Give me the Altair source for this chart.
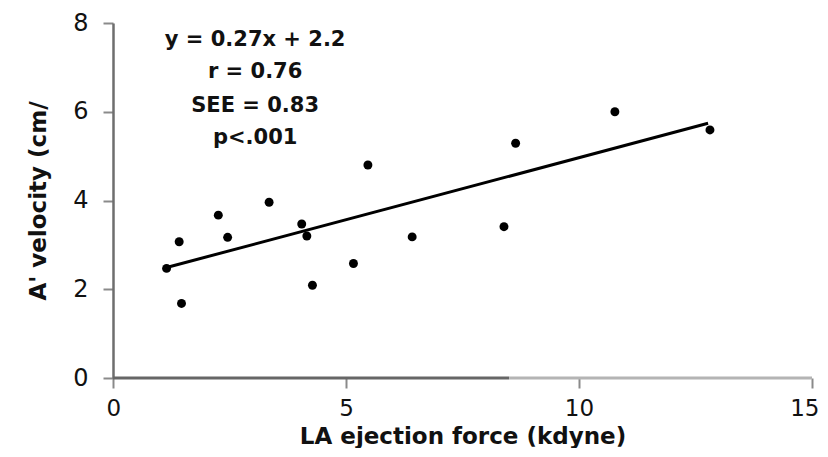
import altair as alt
import pandas as pd

# Scatter data
force = [1.15, 1.42, 1.47, 2.26, 2.46, 3.35, 4.05, 4.16, 4.28, 5.16, 5.47, 6.42, 8.39, 8.64, 10.77, 12.81]
velocity = [2.47, 3.07, 1.68, 3.67, 3.17, 3.96, 3.47, 3.20, 2.09, 2.58, 4.80, 3.18, 3.41, 5.29, 6.00, 5.59]

# Regression line end points
fit_x = [1.15, 12.77]
fit_y = [2.49, 5.74]

# Annotation text
notes = ["y = 0.27x + 2.2", "r = 0.76", "SEE = 0.83", "p<.001"]
note_x = [3.05, 3.05, 3.05, 3.05]
note_y = [7.48, 6.75, 6.00, 5.27]

# x axis line pieces (dark, then lighter)
axis_x = [0, 8.5]
axis_x2 = [8.5, 15]
axis_y = [0, 0]
axis_col = ["#666666", "#b4b4b4"]

x_ticks = [0, 5, 10, 15]
y_ticks = [0, 2, 4, 6, 8]

pts = pd.DataFrame({"x": force, "y": velocity})
fit = pd.DataFrame({"x": fit_x, "y": fit_y})
txt = pd.DataFrame({"x": note_x, "y": note_y, "t": notes})
ax = pd.DataFrame({"x": axis_x, "x2": axis_x2, "y": axis_y, "c": axis_col})

xs = alt.Scale(domain=[0, 15], nice=False, zero=False)
ys = alt.Scale(domain=[0, 8], nice=False, zero=False)

x_axis = alt.Axis(
    values=x_ticks, title="LA ejection force (kdyne)", domain=False, grid=False,
    tickColor="#8a8a8a", tickWidth=2, tickSize=10, labelPadding=9,
    labelFlush=True, labelFlushOffset=7,
    labelFont="DejaVu Sans", labelFontSize=23, labelColor="#111111",
    titleFont="DejaVu Sans", titleFontSize=23, titleFontWeight="bold", titleColor="#111111",
    titleX=349.5, titleY=65, titleAlign="center", titleBaseline="alphabetic",
)
y_axis = alt.Axis(
    values=y_ticks, title="A' velocity (cm/", grid=False,
    domainColor="#6e6e6e", domainWidth=2.5,
    tickColor="#8a8a8a", tickWidth=2, tickSize=10, labelPadding=15, labelFlush=False,
    labelFont="DejaVu Sans", labelFontSize=24, labelColor="#111111",
    titleFont="DejaVu Sans", titleFontSize=23, titleFontWeight="bold", titleColor="#111111",
    titleAngle=-90, titleX=-75, titleY=177.5, titleAlign="center", titleBaseline="middle",
)

axis_line = alt.Chart(ax).mark_rule(strokeWidth=3).encode(
    x=alt.X("x:Q", scale=xs, axis=x_axis),
    x2="x2:Q",
    y=alt.Y("y:Q", scale=ys, axis=y_axis),
    color=alt.Color("c:N", scale=None),
)

points = alt.Chart(pts).mark_point(filled=True, shape="circle", size=80, color="black", opacity=1).encode(
    x=alt.X("x:Q", scale=xs), y=alt.Y("y:Q", scale=ys)
)

line = alt.Chart(fit).mark_line(color="black", strokeWidth=3).encode(
    x=alt.X("x:Q", scale=xs), y=alt.Y("y:Q", scale=ys)
)

text = alt.Chart(txt).mark_text(
    font="DejaVu Sans", fontSize=21, fontWeight="bold", color="#111111",
    align="center", baseline="alphabetic",
).encode(x=alt.X("x:Q", scale=xs), y=alt.Y("y:Q", scale=ys), text="t:N")

chart = alt.layer(axis_line, line, points, text).properties(
    width=699, height=355,
    autosize=alt.AutoSizeParams(type="none"),
    padding={"left": 105, "top": 15, "right": 8, "bottom": 70},
    background="white",
).configure_view(stroke=None)

chart.save("out.html", embed_options={"renderer": "svg", "actions": False})
